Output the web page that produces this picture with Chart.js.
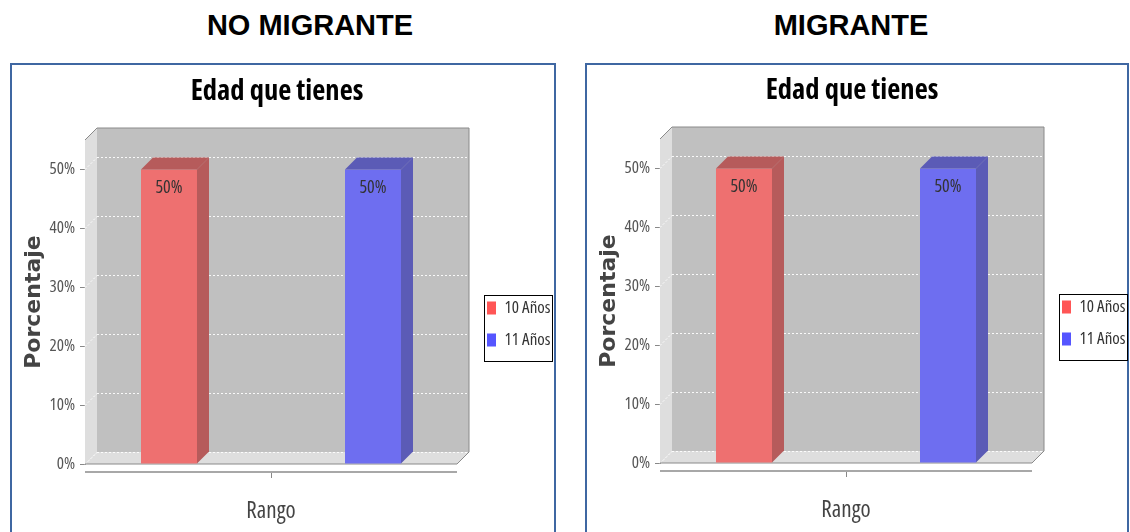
<!DOCTYPE html>
<html><head><meta charset="utf-8">
<script src="https://cdn.jsdelivr.net/npm/chart.js@4.4.1/dist/chart.umd.min.js"></script>
<style>
html,body{margin:0;padding:0;background:#fff;width:1130px;height:532px;overflow:hidden;position:relative;font-family:'Liberation Sans',Arial,sans-serif}
.hdr{position:absolute;top:11px;font-weight:bold;font-size:29px;line-height:29px;color:#000;white-space:nowrap;transform:translateX(-50%)}
.box{position:absolute;border:2px solid #3f67a2;background:#fff}
canvas{position:absolute}
</style></head><body>
<div class="hdr" style="left:310px">NO MIGRANTE</div>
<div class="hdr" style="left:851px">MIGRANTE</div>
<div class="box" style="left:10px;top:63px;width:542px;height:500px"></div>
<div class="box" style="left:585px;top:63px;width:540px;height:500px"></div>
<canvas id="c1" width="542" height="467" style="left:12px;top:65px"></canvas>
<canvas id="c2" width="542" height="467" style="left:587px;top:64px"></canvas>
<script>
// ---- data ----
const categories = [''];
const ageGroups = ['10 Años', '11 Años'];
const noMigranteValues = [50, 50];
const migranteValues = [50, 50];
const yTickValues = [0, 10, 20, 30, 40, 50];
const chartTitle = 'Edad que tienes';
const yAxisTitle = 'Porcentaje';
const xAxisTitle = 'Rango';

// ---- styles ----
const COND = "'Open Sans','Roboto Condensed',sans-serif";
const FRONT = ['#ee7070', '#6e6ef0'];
const SIDE = ['#b65b5b', '#5b5bb6'];
const LEGEND = ['#ff5555', '#5555ff'];
const DEPTH = 12;

Chart.defaults.font.family = COND;
Chart.defaults.font.weight = 'condensed';

function poly(ctx, pts, fill) {
  ctx.beginPath();
  ctx.moveTo(pts[0][0], pts[0][1]);
  for (let i = 1; i < pts.length; i++) ctx.lineTo(pts[i][0], pts[i][1]);
  ctx.closePath();
  ctx.fillStyle = fill;
  ctx.fill();
}

const threeD = {
  id: 'threeD',
  afterLayout(chart) {
    const lg = chart.legend, ca = chart.chartArea;
    const w = lg.width;
    lg.left = ca.right + 15; lg.right = lg.left + w;
    lg.top = ca.top + 144.5; lg.bottom = lg.top + 110;
  },
  beforeDatasetsDraw(chart) {
    const {ctx, chartArea: ca, scales: {y}} = chart;
    const D = DEPTH, L = ca.left, R = ca.right, T = ca.top, B = ca.bottom;
    ctx.save();
    ctx.fillStyle = '#c0c0c0';
    ctx.fillRect(L + D, T - D, R - L, B - T);
    poly(ctx, [[L, T], [L + D, T - D], [L + D, B - D], [L, B]], '#dedede');
    poly(ctx, [[L, B], [L + D, B - D], [R + D, B - D], [R, B]], '#dedede');
    ctx.strokeStyle = 'rgba(255,255,255,0.9)';
    ctx.lineWidth = 1;
    ctx.setLineDash([2, 2]);
    y.ticks.forEach(t => {
      const py = Math.round(y.getPixelForValue(t.value)) + 0.5;
      ctx.beginPath();
      ctx.moveTo(L + D, py - D); ctx.lineTo(R + D, py - D);
      ctx.moveTo(L, py); ctx.lineTo(L + D, py - D);
      ctx.stroke();
    });
    ctx.setLineDash([]);
    ctx.strokeStyle = '#8a8a8a';
    ctx.beginPath();
    ctx.moveTo(L, T); ctx.lineTo(L + D, T - D); ctx.lineTo(R + D, T - D);
    ctx.lineTo(R + D, B - D); ctx.lineTo(R, B); ctx.lineTo(L, B);
    ctx.stroke();
    // category axis line and tick below the floor
    ctx.strokeStyle = '#a8a8a8';
    ctx.lineWidth = 2;
    ctx.beginPath();
    ctx.moveTo(L, B + 8); ctx.lineTo(R, B + 8);
    ctx.stroke();
    const cx = chart.scales.x.getPixelForValue(0);
    ctx.lineWidth = 1;
    ctx.strokeStyle = '#888';
    ctx.beginPath();
    ctx.moveTo(Math.round(cx) + 0.5, B + 9); ctx.lineTo(Math.round(cx) + 0.5, B + 14);
    ctx.stroke();
    ctx.restore();
  },
  afterDatasetsDraw(chart) {
    const {ctx} = chart;
    const D = DEPTH;
    ctx.save();
    chart.data.datasets.forEach((ds, di) => {
      chart.getDatasetMeta(di).data.forEach((bar, i) => {
        const p = bar.getProps(['x', 'y', 'base', 'width'], true);
        const l = p.x - p.width / 2, r = p.x + p.width / 2, t = p.y, b = p.base;
        poly(ctx, [[r, t], [r + D, t - D], [r + D, b - D], [r, b]], SIDE[di]);
        poly(ctx, [[l, t], [l + D, t - D], [r + D, t - D], [r, t]], SIDE[di]);
        ctx.fillStyle = '#333';
        ctx.font = 'condensed 18px ' + COND;
        ctx.textAlign = 'center';
        ctx.textBaseline = 'middle';
        ctx.fillText(ds.data[i] + '%', p.x, t + 18);
      });
    });
    ctx.restore();
  },
  afterDraw(chart) {
    const {ctx} = chart;
    const lg = chart.legend;
    ctx.save();
    ctx.strokeStyle = '#000';
    ctx.lineWidth = 1;
    ctx.strokeRect(Math.round(lg.left + 12) + 0.5, Math.round(lg.top + 10.5) + 0.5, 68, 66);
    ctx.restore();
  }
};

function makeChart(id, values) {
  return new Chart(document.getElementById(id), {
    type: 'bar',
    data: {
      labels: categories,
      datasets: ageGroups.map((g, i) => ({
        label: g,
        data: [values[i]],
        backgroundColor: FRONT[i],
        borderWidth: 0,
        categoryPercentage: 1.0968,
        barPercentage: 0.2745
      }))
    },
    options: {
      responsive: false,
      animation: false,
      devicePixelRatio: 1,
      layout: {padding: {left: 0, right: 12, top: 0, bottom: 0}},
      plugins: {
        title: {
          display: true, text: chartTitle, color: '#000',
          font: {family: COND, size: 28.5, weight: 'bold condensed', lineHeight: 1.2},
          padding: {top: 10, bottom: 30.8}
        },
        legend: {
          display: true, position: 'right', align: 'start', maxWidth: 85,
          labels: {
            boxWidth: 9, boxHeight: 13, padding: 15, color: '#333',
            font: {family: COND, size: 17, weight: 'condensed', lineHeight: 1},
            generateLabels: () => ageGroups.map((g, i) => ({
              text: g, fillStyle: LEGEND[i], strokeStyle: LEGEND[i], lineWidth: 0,
              hidden: false, datasetIndex: i, fontColor: '#333'
            }))
          }
        },
        tooltip: {enabled: false}
      },
      scales: {
        x: {
          display: true,
          grid: {display: false, drawTicks: false, tickLength: 0},
          border: {display: false},
          ticks: {display: false},
          title: {
            display: true, text: xAxisTitle, color: '#444',
            font: {family: COND, size: 23, weight: 'condensed', lineHeight: 1.2},
            padding: {top: 33.2, bottom: 7.2}
          }
        },
        y: {
          min: 0, max: 55,
          afterBuildTicks: s => { s.ticks = yTickValues.map(v => ({value: v})); },
          afterFit: s => { s.width = 73; },
          grid: {display: true, drawOnChartArea: false, drawTicks: true, tickLength: 5, color: '#888'},
          border: {display: true, color: '#888'},
          ticks: {
            padding: 5, color: '#555',
            font: {family: COND, size: 17, weight: 'condensed'},
            callback: v => v + '%'
          },
          title: {
            display: true, text: yAxisTitle, color: '#444',
            font: {family: "'DejaVu Sans',sans-serif", size: 22, weight: 'bold', lineHeight: 1.2},
            padding: {top: 8.8, bottom: 4}
          }
        }
      }
    },
    plugins: [threeD]
  });
}

makeChart('c1', noMigranteValues);
makeChart('c2', migranteValues);
</script>
</body></html>
